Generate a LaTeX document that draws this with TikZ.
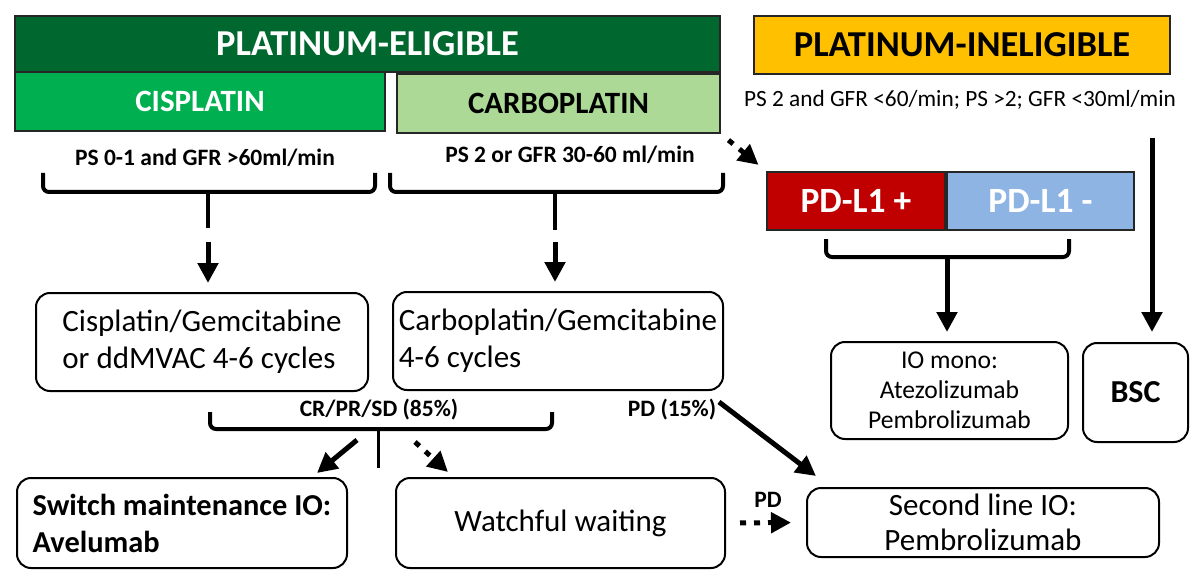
\documentclass[tikz,border=0pt]{standalone}
\usepackage{fontspec}
\setmainfont{Carlito}
\usetikzlibrary{arrows.meta}
\definecolor{eligdark}{RGB}{0,104,46}
\definecolor{cisgreen}{RGB}{0,176,80}
\definecolor{carbogreen}{RGB}{172,218,150}
\definecolor{ineligyellow}{RGB}{255,192,0}
\definecolor{pdred}{RGB}{192,0,0}
\definecolor{pdblue}{RGB}{142,180,227}
\tikzset{
  hdr/.style={draw=black!85, line width=1.5pt, inner sep=0pt, font=\bfseries\fontsize{36.5}{42}\selectfont},
  sub/.style={draw=black!85, line width=1.5pt, inner sep=0pt, font=\bfseries\fontsize{31}{36}\selectfont},
  cond/.style={inner sep=0pt, font=\bfseries\fontsize{23.5}{27}\selectfont},
  rbox/.style={draw, line width=2pt, rounded corners=14pt, inner sep=0pt, font=\fontsize{31}{37}\selectfont},
  arr/.style={line width=5pt, -{Triangle[length=20pt,width=20pt]}},
  darr/.style={arr, dash pattern=on 6pt off 8pt},
  brace/.style={line width=4pt, rounded corners=6pt},
}
\begin{document}
\begin{tikzpicture}[x=1pt, y=-1pt]
\useasboundingbox (0,0) rectangle (1200,575);
% headers
\node[hdr, fill=eligdark, text=white, minimum width=705pt, minimum height=56pt] (elig) at (367.5,44) {PLATINUM-ELIGIBLE};
\node[sub, fill=cisgreen, text=white, minimum width=370pt, minimum height=59pt] (cis) at (200,101.5) {CISPLATIN};
\node[sub, fill=carbogreen, minimum width=323pt, minimum height=59pt] (carbo) at (558.5,103.5) {CARBOPLATIN};
\node[hdr, fill=ineligyellow, minimum width=416pt, minimum height=58pt] (inelig) at (962,45) {PLATINUM-INELIGIBLE};
% conditions
\node[cond] (cisps) at (205,158) {PS 0-1 and GFR >60ml/min};
\node[cond] (carbops) at (570,155) {PS 2 or GFR 30-60 ml/min};
\node[inner sep=0pt, font=\fontsize{23.3}{27}\selectfont] (ineligps) at (960,100) {PS 2 and GFR <60/min; PS >2; GFR <30ml/min};
% pd-l1 status
\node[sub, fill=pdred, text=white, font=\bfseries\fontsize{35.5}{40}\selectfont, minimum width=178pt, minimum height=58pt] (pdpos) at (856,201) {PD-L1 +};
\node[sub, fill=pdblue, text=white, font=\bfseries\fontsize{35.5}{40}\selectfont, minimum width=187pt, minimum height=58pt] (pdneg) at (1040.5,201) {PD-L1 -};
% first line
\node[rbox, minimum width=332pt, minimum height=98pt, align=left] (cisreg) at (202,342) {Cisplatin/Gemcitabine\\or ddMVAC 4-6 cycles};
\node[rbox, minimum width=330pt, minimum height=98pt, align=left] (carboreg) at (558,341) {Carboplatin/Gemcitabine\\4-6 cycles};
\node[rbox, font=\fontsize{25.6}{30}\selectfont, minimum width=237pt, minimum height=97pt, align=center] (iomono) at (949.5,390.5) {IO mono:\\Atezolizumab\\Pembrolizumab};
\node[rbox, font=\bfseries\fontsize{32}{36}\selectfont, minimum width=105pt, minimum height=99pt] (bsc) at (1135.5,392.5) {BSC};
% after first line
\node[rbox, font=\bfseries\fontsize{30.4}{37}\selectfont, minimum width=330pt, minimum height=90pt, align=left] (switch) at (182,523) {Switch maintenance IO:\\Avelumab};
\node[rbox, minimum width=329pt, minimum height=90pt] (watch) at (560.5,523) {Watchful waiting};
\node[rbox, minimum width=352pt, minimum height=69pt, align=center, font=\fontsize{31}{35}\selectfont] (second) at (983,522.5) {Second line IO:\\Pembrolizumab};
\node[cond] (resp) at (379,410) {CR/PR/SD (85\%)};
\node[cond] (prog) at (672,410) {PD (15\%)};
\node[cond] (pdlab) at (768,500) {PD};
% braces
\coordinate (cisfork) at (208,192);
\coordinate (carbofork) at (555,192);
\coordinate (pdfork) at (947,257);
\coordinate (respfork) at (378,429);
\draw[brace] (43,173) |- (cisfork) -| (375,173);
\draw[brace] (390,173) |- (carbofork) -| (723,173);
\draw[brace] (826,239) |- (pdfork) -| (1069,239);
\draw[brace] (210,412) |- (respfork) -| (552,412);
\draw[brace] (cisfork) -- ++(0,36);
\draw[brace] (carbofork) -- ++(0,38);
\draw[brace, line width=3pt] (respfork) -- ++(0,39);
% arrows
\draw[arr, shorten >=9pt] ([yshift=-50pt]cisfork) -- (cisfork |- cisreg.north);
\draw[arr, shorten >=9pt] ([yshift=-50pt]carbofork) -- (carbofork |- carboreg.north);
\draw[arr, shorten >=9pt] (pdfork) -- (pdfork |- iomono.north);
\coordinate (bsctop) at (1152,138);
\draw[arr, shorten >=10pt] (bsctop) -- (bsctop |- bsc.north);
\draw[darr, shorten <=10pt, shorten >=10pt] (carbo.south east) -- (pdpos.north west);
\coordinate (switchfrom) at (357,440);
\coordinate (switchto) at (317,473);
\draw[arr] (switchfrom) -- (switchto);
\coordinate (watchfrom) at (415,442);
\coordinate (watchto) at (448,472);
\draw[darr] (watchfrom) -- (watchto);
\draw[arr] ([shift={(-5,11)}]carboreg.south east) -- ([shift={(10,-11)}]second.north west);
\draw[darr, shorten <=14pt, shorten >=15pt] (watch.east) -- (second.west);
\end{tikzpicture}
\end{document}
